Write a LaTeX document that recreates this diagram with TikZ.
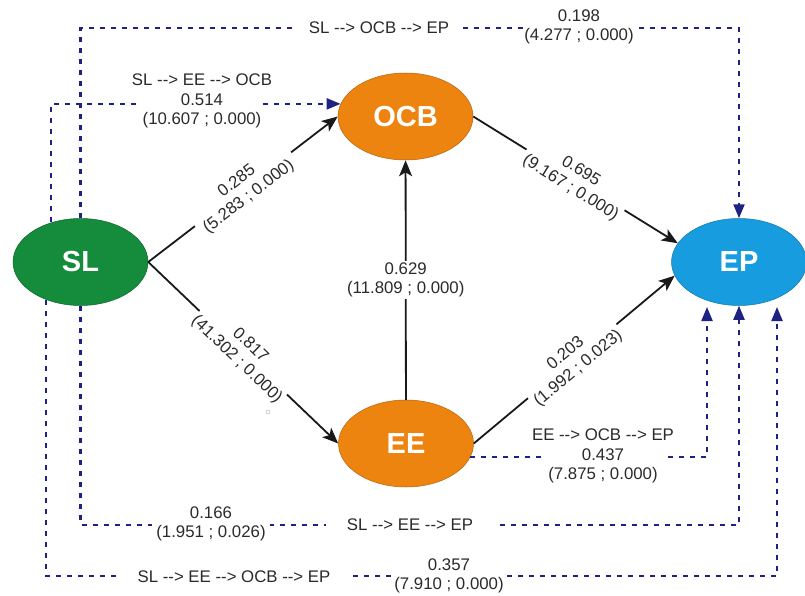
\documentclass[tikz,border=0pt]{standalone}
\usepackage{fontspec}
\setmainfont{Liberation Sans}[Ligatures=TeXOff]
\usetikzlibrary{arrows.meta,shapes.geometric}
\definecolor{slgreen}{HTML}{148C3C}
\definecolor{orng}{HTML}{EE8410}
\definecolor{epblue}{HTML}{189CE0}
\definecolor{navy}{HTML}{1E2382}
\definecolor{txt}{HTML}{2A2A2A}
\newcommand\ar{-\kern0pt-\kern0pt>}
\begin{document}
\begin{tikzpicture}[x=1pt,y=-1pt,
  latent/.style={ellipse, minimum width=135pt, minimum height=87pt, inner sep=0pt,
    text=white, font=\fontsize{29}{30}\selectfont\bfseries, line width=0.5pt},
  arr/.style={line width=1.8pt, draw=black!90, -{Stealth[length=16pt,width=13pt,inset=4pt]}},
  ind/.style={line width=2.2pt, draw=navy, dash pattern=on 5pt off 6pt,
    -{Triangle[length=14pt,width=11pt]}},
  lbl/.style={align=center, text=txt, font=\fontsize{16.8}{19.5}\selectfont, inner sep=1pt},
  cover/.style={lbl, fill=white},
  gapnode/.style={fill=white, inner sep=0pt, minimum height=8pt},
]
\useasboundingbox (0,0) rectangle (805,596);

% latent variables
\node[latent, fill=slgreen, draw=slgreen!70!black] (SL) at (80.5,262) {SL};
\node[latent, fill=orng, draw=orng!75!black] (OCB) at (405.5,116.5) {OCB};
\node[latent, fill=orng, draw=orng!75!black] (EE) at (406,443.5) {EE};
\node[latent, fill=epblue, draw=epblue!75!black] (EP) at (739,262) {EP};

% free ends of the indirect paths
\coordinate (s2) at (51,222);
\coordinate (s4) at (46,300);
\coordinate (s5) at (470,457);
\coordinate (e5) at (707,307);
\coordinate (e4) at (777,307);

% indirect effects (dashed)
\draw[ind] (SL.north) -- ++(0,-190) -| (EP.north);
\node[cover, inner xsep=12pt] (l1a) at (379,28) {SL \ar{} OCB \ar{} EP};
\node[cover] (l1b) at (579,27) {0.198\\(4.277 ; 0.000)};

\draw[ind] (s2) |- (OCB.169);
\node[gapnode, minimum width=120pt] (g2) at (200,104) {};
\node[lbl] (l2) at (202,101) {SL \ar{} EE \ar{} OCB\\0.514\\(10.607 ; 0.000)};

\draw[ind] (SL.south) -- ++(0,219) -| (EP.south);
\node[cover, inner xsep=4pt] (l3a) at (211,524) {0.166\\(1.951 ; 0.026)};
\node[cover, inner xsep=21pt] (l3b) at (410,525) {SL \ar{} EE \ar{} EP};

\draw[ind] (s4) -- (s4 |- 0,576) -| (e4);
\node[cover, inner xsep=17pt] (l4a) at (234,577) {SL \ar{} EE \ar{} OCB \ar{} EP};
\node[cover, inner xsep=3pt] (l4b) at (449,576) {0.357\\(7.910 ; 0.000)};

\draw[ind] (s5) -| (e5);
\node[gapnode, minimum width=120pt] (g5) at (605,457) {};
\node[lbl] (l5) at (603,456) {EE \ar{} OCB \ar{} EP\\0.437\\(7.875 ; 0.000)};

% direct effects (solid)
\draw[arr] (SL.east) -- node[cover, sloped, minimum width=121pt] (d1) {0.285\\(5.283 ; 0.000)} (OCB.west);
\draw[arr] (SL.east) -- node[cover, sloped, minimum width=117pt] (d2) {0.817\\(41.302 ; 0.000)} (EE.west);
\draw[arr] (OCB.east) -- node[cover, sloped, minimum width=115pt] (d3) {0.695\\(9.167 ; 0.000)} (EP.163);
\draw[arr] (EE.east) -- node[cover, sloped, pos=0.49, minimum width=115pt] (d4) {0.203\\(1.992 ; 0.023)} (EP.192);
\draw[arr] (EE) -- node[cover, inner ysep=2pt] (d5) {0.629\\(11.809 ; 0.000)} (OCB);

% small stray mark
\node[circle, draw=gray!50, line width=0.6pt, inner sep=0pt, minimum size=4pt] (dot) at (268,412) {};
\end{tikzpicture}
\end{document}
